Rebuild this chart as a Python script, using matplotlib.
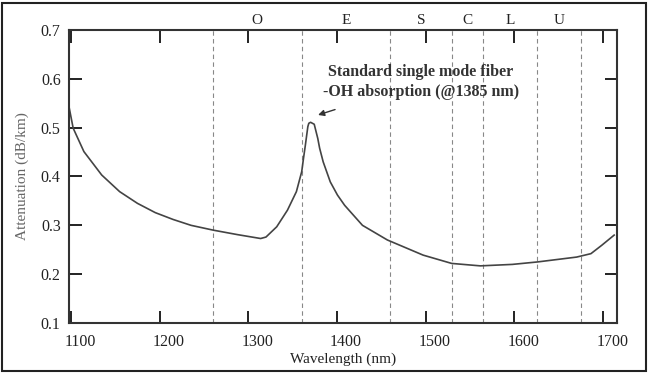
import matplotlib
matplotlib.use("Agg")
import matplotlib.pyplot as plt
import matplotlib.transforms as mtransforms
from matplotlib.patches import Rectangle

plt.rcParams['font.family'] = ['Liberation Serif', 'DejaVu Serif']

# attenuation curve
wavelength = [1098, 1102.4, 1114.5, 1134.6, 1154.8, 1174.9, 1195, 1215.1, 1235.3, 1260.7,
              1287.6, 1313.8, 1319.8, 1331.9, 1344, 1354.1, 1360.1, 1362.1, 1364.2, 1367,
              1368.1, 1370.1, 1374.2, 1378.2, 1380.3, 1384.3, 1392.3, 1400.4, 1408.5, 1428.6,
              1456.7, 1497, 1529.2, 1561.5, 1597.6, 1625.8, 1670.1, 1686.2, 1698.3, 1712.4]
attenuation = [0.540, 0.499, 0.451, 0.403, 0.369, 0.345, 0.326, 0.312, 0.300, 0.290,
               0.281, 0.273, 0.276, 0.297, 0.331, 0.369, 0.410, 0.437, 0.464, 0.502,
               0.509, 0.511, 0.507, 0.478, 0.458, 0.430, 0.389, 0.362, 0.341, 0.300,
               0.270, 0.239, 0.222, 0.217, 0.220, 0.225, 0.235, 0.242, 0.259, 0.280]

# band edges (dashed lines) and band names
band_edges = [1260, 1360, 1460, 1530, 1565, 1625, 1675]
band_names = ['O', 'E', 'S', 'C', 'L', 'U']
band_centers = [1310, 1410, 1495, 1547.5, 1595, 1650]

xticks = [1100, 1200, 1300, 1400, 1500, 1600, 1700]
yticks = [0.1, 0.2, 0.3, 0.4, 0.5, 0.6, 0.7]

fig = plt.figure(figsize=(6.5, 3.76), dpi=100)
ax = fig.add_axes([69/650, 53/376, 548/650, 293/376])

for edge in band_edges:
    ax.axvline(edge, color='#888888', linestyle=(0, (4, 3)), linewidth=0.8)

ax.plot(wavelength, attenuation, color='#444444', linewidth=1.2)

ax.set_xlim(1097.7, 1715.6)
ax.set_ylim(0.1, 0.7)
ax.set_xticks(xticks)
ax.set_yticks(yticks)
ax.tick_params(direction='in', length=9, width=1.4, top=True, right=True,
               labelsize=11.5, pad=6, colors='#222222')
ax.tick_params(axis='x', pad=8)
for s in ax.spines.values():
    s.set_linewidth(1.5)
    s.set_color('#333333')

# x tick labels sit a bit right of their ticks in the original
shift = mtransforms.ScaledTranslation(9/100, 0, fig.dpi_scale_trans)
for lab in ax.get_xticklabels():
    lab.set_transform(lab.get_transform() + shift)

for name, c in zip(band_names, band_centers):
    ax.text(c, 1.034, name, transform=ax.get_xaxis_transform(),
            ha='center', va='center', fontsize=11, color='#222222')

ax.annotate('Standard single mode fiber\n-OH absorption (@1385 nm)',
            xy=(1378.5, 0.526), xytext=(1494.6, 0.593),
            ha='center', va='center', fontsize=11.5, fontweight='bold', color='#333333',
            linespacing=1.3,
            arrowprops=dict(arrowstyle='-|>', color='#333333', lw=1.0,
                            shrinkA=16, shrinkB=0, mutation_scale=9))

fig.text(343/650, 1 - 359/376, 'Wavelength (nm)', ha='center', va='center',
         fontsize=11, color='#222222')
fig.text(22/650, 1 - 176/376, 'Attenuation (dB/km)', ha='center', va='center',
         rotation=90, fontsize=11, color='#666666')

# outer frame
fig.patches.append(Rectangle((2/650, 5/376), 644/650, 368/376, transform=fig.transFigure,
                             fill=False, edgecolor='#222222', linewidth=1.5))

fig.savefig('out.png', dpi=100)
